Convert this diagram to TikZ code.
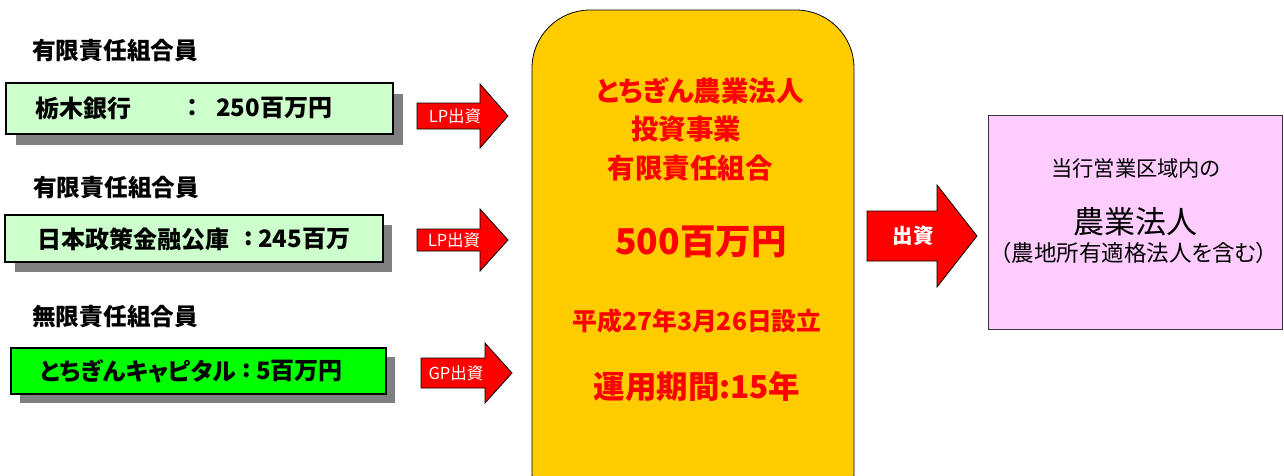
\documentclass[tikz,border=0pt]{standalone}
\usepackage{fontspec}
\setmainfont{Noto Sans CJK JP}[RawFeature=+palt]
\usetikzlibrary{calc}
\definecolor{lgreen}{HTML}{CCFFCC}
\definecolor{vgreen}{HTML}{00FF00}
\definecolor{fundyellow}{HTML}{FFCC00}
\definecolor{lpink}{HTML}{FFCCFF}
\definecolor{shadowgray}{HTML}{808080}
\definecolor{pureRed}{HTML}{FF0000}
\newcommand\blockarrow[7]{% name, x0, x1, x2, yc, shaft half, head half
  \path[fill=pureRed,draw=black,line width=0.8pt] (#2,#5-#6) -- (#3,#5-#6) -- (#3,#5-#7) -- (#4,#5) -- (#3,#5+#7) -- (#3,#5+#6) -- (#2,#5+#6) -- cycle;
  \coordinate (#1) at ({(#2+#3)/2},#5);
}
\begin{document}
\begin{tikzpicture}[x=1pt,y=-1pt,
  grouplabel/.style={anchor=west,inner sep=0pt,font=\fontsize{23.7}{25}\selectfont\bfseries},
  membertext/.style={anchor=west,inner sep=0pt,font=\fontsize{24}{26}\selectfont\bfseries},
  arrowlabel/.style={inner sep=0pt,text=white,font=\fontsize{16.5}{18}\selectfont},
  fundtext/.style={inner sep=0pt,text=pureRed,font=\fontsize{27.5}{29}\selectfont\bfseries},
  pinktext/.style={inner sep=0pt,font=\fontsize{21.3}{23}\selectfont},
  memberbox/.style={draw=black,line width=1.2pt}]
\useasboundingbox (0,0) rectangle (1284,475);
\fill[white] (0,0) rectangle (1284,475);

% member 1
\node[grouplabel] (g1) at (32,51) {有限責任組合員};
\fill[shadowgray] (16,94) rectangle (403,145);
\draw[memberbox,fill=lgreen] (6,83) rectangle (393,134);
\node[membertext] (m1a) at (35,108) {栃木銀行};
\node[membertext,anchor=center] (m1b) at (192,108) {：};
\node[membertext] (m1c) at (216,108) {250百万円};
\blockarrow{a1}{417}{480}{508}{116}{13}{32}
\node[arrowlabel] (l1) at (455,116) {LP出資};

% member 2
\node[grouplabel] (g2) at (33,188) {有限責任組合員};
\fill[shadowgray] (15,225) rectangle (392,272);
\draw[memberbox,fill=lgreen] (5,215) rectangle (383,262);
\node[membertext] (m2a) at (37,239) {日本政策金融公庫};
\node[membertext,anchor=center] (m2b) at (249,239) {:};
\node[membertext] (m2c) at (258,239) {245百万};
\blockarrow{a2}{417}{480}{508}{240}{11}{31}
\node[arrowlabel] (l2) at (454,240) {LP出資};

% member 3
\node[grouplabel] (g3) at (32,317) {無限責任組合員};
\fill[shadowgray] (20,357) rectangle (395,403);
\draw[memberbox,fill=vgreen] (11,348) rectangle (386,394);
\node[membertext] (m3a) at (40,371) {とちぎんキャピタル};
\node[membertext,anchor=center] (m3b) at (247,371) {:};
\node[membertext] (m3c) at (256,371) {5百万円};
\blockarrow{a3}{421}{485}{512}{373}{15}{30}
\node[arrowlabel] (l3) at (456,373) {GP出資};

% fund
\begin{scope}
\clip (0,0) rectangle (1284,475);
\draw[fill=fundyellow,draw=black,line width=0.8pt,rounded corners=58pt] (532,10) rectangle (854,530);
\end{scope}
\node[fundtext] (f1) at (700,91) {とちぎん農業法人};
\node[fundtext] (f2) at (686,129) {投資事業};
\node[fundtext] (f3) at (690,168) {有限責任組合};
\node[fundtext,font=\fontsize{35.5}{37}\selectfont\bfseries] (f4) at (701,242) {500百万円};
\node[fundtext,font=\fontsize{24.8}{26}\selectfont\bfseries] (f5) at (697,321) {平成27年3月26日設立};
\node[fundtext,font=\fontsize{31.5}{33}\selectfont\bfseries] (f6) at (697,387) {運用期間:15年};

% big arrow
\blockarrow{a4}{867}{937}{977}{236}{25}{51}
\node[arrowlabel,font=\fontsize{20.5}{22}\selectfont\bfseries] (l4) at (913,236) {出資};

% target
\draw[fill=lpink,draw=black!80,line width=1pt] (988,115) rectangle (1282,329);
\node[pinktext] (t1) at (1136,168) {当行営業区域内の};
\node[pinktext,font=\fontsize{31}{33}\selectfont] (t2) at (1135,222) {農業法人};
\node[pinktext,font=\fontsize{22.5}{24}\selectfont] (t3) at (1134,253) {（農地所有適格法人を含む）};
\end{tikzpicture}
\end{document}
